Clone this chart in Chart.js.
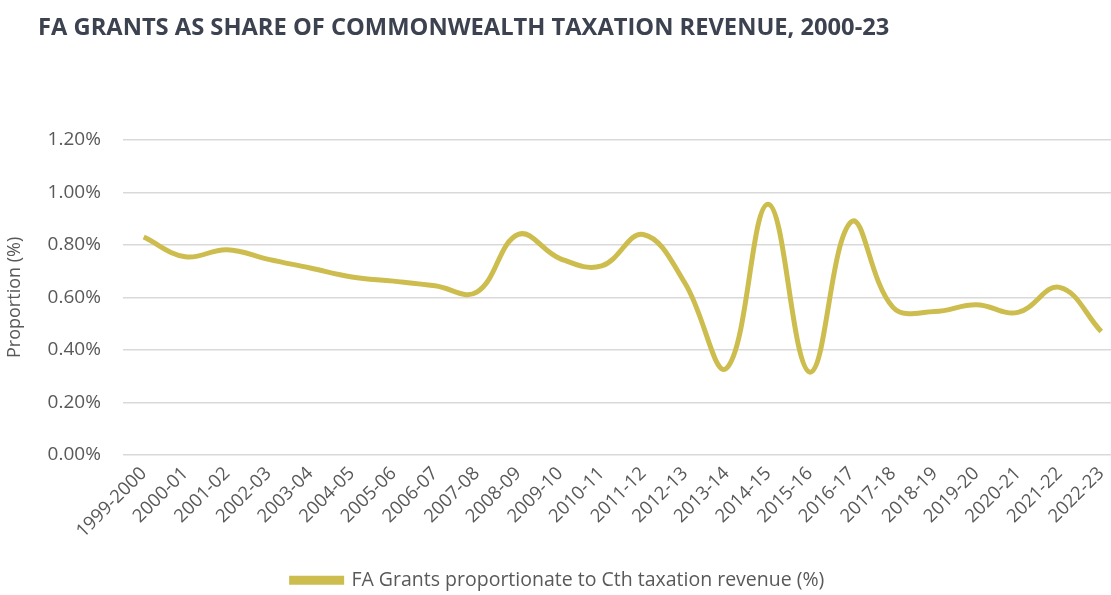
<!DOCTYPE html>
<html lang="en">
<head>
    <meta charset="UTF-8">
    <title>FA Grants as share of Commonwealth taxation revenue</title>
    <script src="https://cdn.jsdelivr.net/npm/chart.js"></script>
    <style>
        body { margin: 0; overflow: hidden; background: #fff; position: relative; }
        #title {
            position: absolute; left: 38px; top: 14px; margin: 0;
            font: bold 23.7px/24px 'Open Sans', sans-serif; color: #3c4250;
            white-space: nowrap;
        }
    </style>
</head>
<body>
    <h1 id="title">FA GRANTS AS SHARE OF COMMONWEALTH TAXATION REVENUE, 2000-23</h1>
    <canvas id="grantsChart" width="1135" height="595"></canvas>
    <script>
        const years = ['1999-2000', '2000-01', '2001-02', '2002-03', '2003-04', '2004-05', '2005-06', '2006-07',
            '2007-08', '2008-09', '2009-10', '2010-11', '2011-12', '2012-13', '2013-14', '2014-15', '2015-16',
            '2016-17', '2017-18', '2018-19', '2019-20', '2020-21', '2021-22', '2022-23'];
        // FA Grants as % of Cth taxation revenue
        const faShare = [0.83, 0.755, 0.782, 0.745, 0.712, 0.678, 0.662, 0.644, 0.62, 0.84, 0.748, 0.72,
            0.84, 0.655, 0.33, 0.955, 0.315, 0.888, 0.562, 0.546, 0.572, 0.543, 0.638, 0.47];
        const yTicks = [0, 0.2, 0.4, 0.6, 0.8, 1.0, 1.2];

        const lineColour = '#cdbd4e';
        const textGrey = '#595959';

        const ctx = document.getElementById('grantsChart').getContext('2d');
        new Chart(ctx, {
            type: 'line',
            data: {
                labels: years,
                datasets: [{
                    label: 'FA Grants proportionate to Cth taxation revenue (%)',
                    data: faShare,
                    borderColor: lineColour,
                    backgroundColor: lineColour,
                    borderWidth: 5,
                    pointRadius: 0,
                    tension: 0.4,
                    fill: false
                }]
            },
            options: {
                responsive: false,
                animation: false,
                layout: { padding: { left: -6, right: 13, top: 140, bottom: -5 } },
                plugins: {
                    legend: {
                        position: 'bottom',
                        labels: {
                            color: textGrey,
                            boxWidth: 50,
                            boxHeight: 4,
                            padding: 0,
                            font: { family: 'Open Sans', size: 19.5 }
                        }
                    },
                    tooltip: { enabled: false }
                },
                scales: {
                    x: {
                        offset: true,
                        grid: { display: false },
                        border: { display: false },
                        afterFit: axis => { axis.height += 28; },
                        ticks: {
                            color: textGrey,
                            font: { family: 'Open Sans', size: 18.5 },
                            minRotation: 45,
                            maxRotation: 45,
                            autoSkip: false,
                            padding: 0
                        }
                    },
                    y: {
                        min: 0,
                        max: 1.2,
                        afterBuildTicks: axis => { axis.ticks = yTicks.map(v => ({ value: v })); },
                        grid: { color: '#d9d9d9', lineWidth: 1.5, drawTicks: false },
                        border: { display: false },
                        title: {
                            display: true,
                            text: 'Proportion (%)',
                            color: textGrey,
                            font: { family: 'Open Sans', size: 18 },
                            padding: { top: 10, bottom: 0 }
                        },
                        ticks: {
                            color: textGrey,
                            font: { family: 'Open Sans', size: 19 },
                            padding: 22,
                            callback: v => v.toFixed(2) + '%'
                        }
                    }
                }
            }
        });
    </script>
</body>
</html>
